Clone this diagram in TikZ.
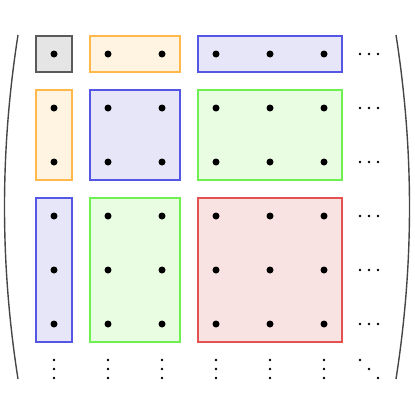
\documentclass[tikz,border=0pt]{standalone}
\usepackage{tikz}
\usetikzlibrary{positioning}

\definecolor{grayline}{RGB}{90,90,90}
\definecolor{grayfill}{RGB}{229,229,229}
\definecolor{orangeline}{RGB}{255,185,75}
\definecolor{orangefill}{RGB}{255,243,226}
\definecolor{blueline}{RGB}{85,85,230}
\definecolor{bluefill}{RGB}{230,230,248}
\definecolor{greenline}{RGB}{110,240,80}
\definecolor{greenfill}{RGB}{232,253,225}
\definecolor{redline}{RGB}{230,80,80}
\definecolor{redfill}{RGB}{249,226,226}
\definecolor{parenline}{RGB}{70,70,70}

\newcommand{\block}[5]{\draw[line width=1.2pt,draw=#1line,fill=#1fill] (#2,#3) rectangle (#4,#5);}

\begin{document}
\begin{tikzpicture}[x=1pt,y=-1pt,
  dot/.style={circle,fill=black,inner sep=0pt,minimum size=7pt},
  smalldot/.style={circle,fill=black,inner sep=0pt,minimum size=2.8pt}]
\useasboundingbox (0,0) rectangle (415,415);
% blocks
\block{gray}{36}{36}{72}{72}
\block{orange}{90}{36}{180}{72}
\block{blue}{198}{36}{342}{72}
\block{orange}{36}{90}{72}{180}
\block{blue}{90}{90}{180}{180}
\block{green}{198}{90}{342}{180}
\block{blue}{36}{198}{72}{342}
\block{green}{90}{198}{180}{342}
\block{red}{198}{198}{342}{342}
% entries
\foreach \i in {1,...,6}
  \foreach \j in {1,...,6}
    \node[dot] (d\i\j) at (54*\i,54*\j) {};
% row and column dots
\foreach \k in {1,...,6} {
  \foreach \s/\t in {0/a,9/b,18/c} {
    \node[smalldot] (h\k\t) at (360+\s,54*\k) {};
    \node[smalldot] (v\k\t) at (54*\k,360+\s) {};
  }
}
\foreach \s/\t in {0/a,9/b,18/c}
  \node[smalldot] (dd\t) at (360+\s,360+\s) {};
% parentheses
\coordinate (lt) at (18,35);
\coordinate (lb) at (18,379);
\coordinate (rt) at (396,35);
\coordinate (rb) at (396,379);
\draw[line width=1.4pt,parenline] (lt) .. controls (0,150) and (0,264) .. (lb);
\draw[line width=1.4pt,parenline] (rt) .. controls (414,150) and (414,264) .. (rb);
\end{tikzpicture}
\end{document}
